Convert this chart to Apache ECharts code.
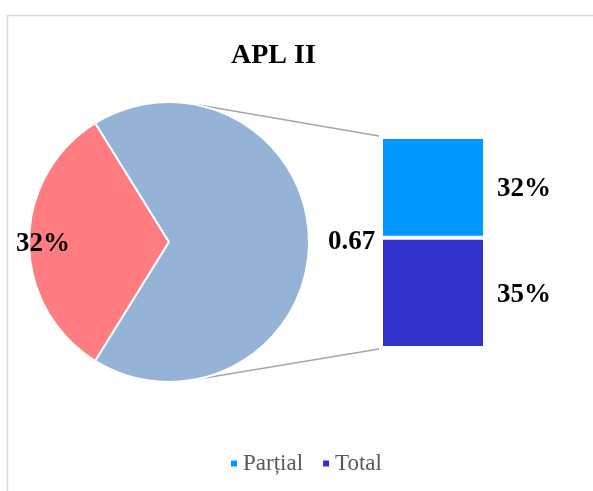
<!DOCTYPE html>
<html>
<head>
<meta charset="utf-8">
<script src="https://cdn.jsdelivr.net/npm/echarts@6/dist/echarts.min.js"></script>
<style>
  html, body { margin: 0; padding: 0; background: #fff; }
  #chart { width: 593px; height: 491px; }
</style>
</head>
<body>
<div id="chart"></div>
<script>
// pie part
const pieNames = ['Nu', 'Da'];
const pieValues = [0.32, 0.67];
const pieLabels = ['32%', '0.67'];
const pieColors = ['#FF7C80', '#95B3D7'];
// bar part (breakdown of the blue slice)
const barNames = ['Parțial', 'Total'];
const barValues = [0.32, 0.35];
const barColors = ['#0099FF', '#3333CC'];

// layout
const pieCenter = [169, 242];
const pieRadius = 140;
const barBox = { left: 381, top: 137, width: 104, height: 211 };
const serif = '"Liberation Serif", "Times New Roman", serif';

const chart = echarts.init(document.getElementById('chart'));

const barTotal = barValues.reduce((a, b) => a + b, 0);

// connector lines from pie edge to bar corners
const ang = 79 * Math.PI / 180;
const px = pieCenter[0] + pieRadius * Math.cos(ang);
const pyTop = pieCenter[1] - pieRadius * Math.sin(ang);
const pyBot = pieCenter[1] + pieRadius * Math.sin(ang);
const lineStyle = { stroke: '#A6A6A6', lineWidth: 1.5 };

const option = {
  backgroundColor: '#ffffff',
  animation: false,
  title: {
    text: 'APL II',
    left: 226,
    top: 37,
    textStyle: { fontFamily: serif, fontSize: 28, fontWeight: 'bold', color: '#000' }
  },
  legend: {
    data: barNames,
    left: 224,
    top: 447,
    icon: 'rect',
    itemWidth: 8,
    itemHeight: 8,
    itemGap: 18,
    textStyle: { fontFamily: serif, fontSize: 23, color: '#595959' }
  },
  graphic: [
    { type: 'rect', shape: { x: 7.5, y: 15.5, width: 700, height: 600 },
      style: { fill: 'none', stroke: '#D9D9D9', lineWidth: 1.5 }, z: -1 },
    { type: 'line', shape: { x1: px, y1: pyTop, x2: barBox.left - 2, y2: barBox.top - 1 }, style: lineStyle },
    { type: 'line', shape: { x1: px, y1: pyBot, x2: barBox.left - 2, y2: barBox.top + barBox.height + 1 }, style: lineStyle }
  ],
  grid: barBox,
  xAxis: { type: 'category', data: [''], show: false },
  yAxis: { type: 'value', min: 0, max: barTotal, inverse: true, show: false },
  series: [
    {
      type: 'pie',
      center: pieCenter,
      radius: pieRadius,
      startAngle: 180 + pieValues[0] / (pieValues[0] + pieValues[1]) * 180,
      clockwise: true,
      itemStyle: { borderColor: '#fff', borderWidth: 2 },
      label: { fontFamily: serif, fontSize: 27, fontWeight: 'bold', color: '#000' },
      labelLine: { show: false, length: 8, length2: 6 },
      data: pieValues.map((v, i) => ({
        name: pieNames[i],
        value: v,
        itemStyle: { color: pieColors[i] },
        label: i === 0
          ? { position: 'inside', offset: [-53, 2], formatter: pieLabels[i] }
          : { position: 'outside', formatter: pieLabels[i] }
      }))
    },
    ...barNames.map((n, i) => ({
      type: 'bar',
      name: n,
      stack: 'split',
      barWidth: '100%',
      data: [barValues[i]],
      itemStyle: { color: barColors[i], borderColor: '#fff', borderWidth: 2 },
      label: {
        show: true,
        position: 'right',
        distance: 12,
        offset: [0, 2],
        formatter: p => Math.round(p.value * 100) + '%',
        fontFamily: serif, fontSize: 27, fontWeight: 'bold', color: '#000'
      }
    }))
  ]
};

chart.setOption(option);
</script>
</body>
</html>
